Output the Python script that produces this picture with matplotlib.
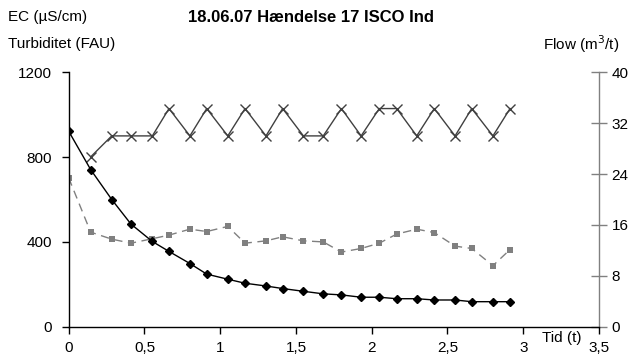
import matplotlib.pyplot as plt
from matplotlib.ticker import FuncFormatter

plt.rcParams['font.family'] = ['Liberation Sans', 'DejaVu Sans']
plt.rcParams['font.size'] = 11

# time (hours)
tid = [0, 0.145, 0.284, 0.411, 0.552, 0.662, 0.80, 0.911, 1.05, 1.164, 1.302, 1.412,
       1.549, 1.68, 1.80, 1.93, 2.05, 2.165, 2.297, 2.413, 2.55, 2.66, 2.80, 2.913]

# EC (uS/cm)
ec = [922, 741, 600, 484, 402, 355, 298, 248, 224, 205, 192, 180,
      167, 155, 150, 139, 139, 132, 132, 126, 126, 118, 118, 118]

# Turbidity (FAU)
turb = [702, 446, 413, 394, 415, 432, 460, 449, 473, 394, 405, 424,
        405, 400, 352, 369, 394, 437, 460, 444, 380, 369, 288, 364]

# Flow (m3/t), starts at second sample
flow = [26.7, 30.0, 30.0, 30.0, 34.3, 30.0, 34.3, 30.0, 34.3, 30.0, 34.3,
        30.0, 30.0, 34.3, 30.0, 34.3, 34.3, 30.0, 34.3, 30.0, 34.3, 30.0, 34.3]

fig = plt.figure(figsize=(6.28, 3.61), dpi=100)
ax = fig.add_axes([68.7 / 628, 1 - 326.7 / 361, (599 - 68.7) / 628, (326.7 - 72.3) / 361])
ax2 = ax.twinx()

# flow on right axis
ax2.plot(tid[1:], flow, color='#404040', lw=1, marker='x', markersize=7,
         markeredgewidth=1, zorder=3)
ax2.set_ylim(0, 40)
ax2.set_yticks([0, 8, 16, 24, 32, 40])

# EC and turbidity on left axis
ax.plot(tid, turb, color='#808080', lw=1, ls=(0, (6, 4)), marker='s', markersize=4,
        markeredgewidth=0, zorder=2)
ax.plot(tid, ec, color='black', lw=1, marker='D', markersize=4, zorder=3)

ax.set_xlim(0, 3.5)
ax.set_ylim(0, 1200)
ax.set_yticks([0, 400, 800, 1200])
ax.set_xticks([0, 0.5, 1, 1.5, 2, 2.5, 3, 3.5])
ax.xaxis.set_major_formatter(FuncFormatter(lambda v, p: ('%g' % v).replace('.', ',')))

for s in ['top', 'right']:
    ax.spines[s].set_visible(False)
for s in ['top', 'left', 'bottom']:
    ax2.spines[s].set_visible(False)
ax.spines['left'].set_linewidth(1)
ax.spines['bottom'].set_linewidth(1)
ax2.spines['right'].set_color('#808080')
ax2.spines['right'].set_linewidth(1)

ax.tick_params(axis='y', direction='out', length=5, width=1, pad=7)
ax.tick_params(axis='x', direction='out', length=5, width=1, pad=5)
ax2.tick_params(axis='y', direction='inout', length=12, width=1, color='#808080', pad=3)

ax.set_facecolor('none')
ax.set_zorder(ax2.get_zorder() + 1)

# labels
fig.text(8 / 628, 1 - 17 / 361, 'EC (µS/cm)', ha='left', va='center')
fig.text(8 / 628, 1 - 44 / 361, 'Turbiditet (FAU)', ha='left', va='center')
fig.text(311 / 628, 1 - 18 / 361, '18.06.07 Hændelse 17 ISCO Ind', ha='center',
         va='center', fontweight='bold', fontsize=12)
fig.text(619 / 628, 1 - 44 / 361, 'Flow (m$^3$/t)', ha='right', va='center')
fig.text(562 / 628, 1 - 338 / 361, 'Tid (t)', ha='center', va='center')

fig.savefig('out.png', dpi=100)
